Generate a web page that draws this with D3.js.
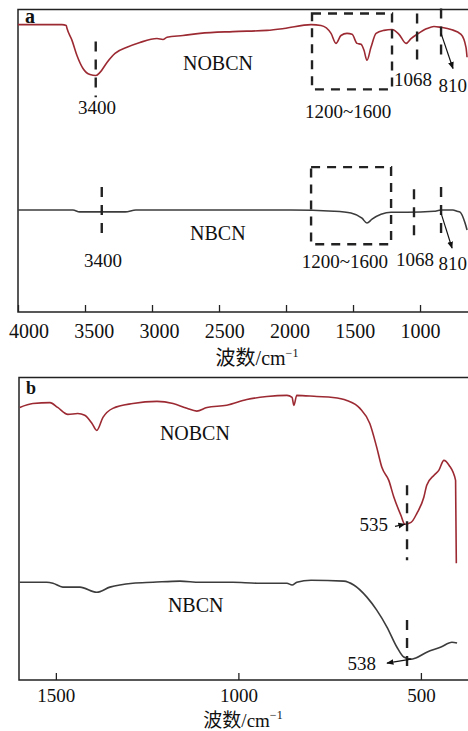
<!DOCTYPE html>
<html>
<head>
<meta charset="utf-8">
<script src="https://cdn.jsdelivr.net/npm/d3@7"></script>
<style>
  body { margin: 0; background: #fff; }
  svg { display: block; }
  text { font-family: "Liberation Serif", "DejaVu Serif", serif; fill: #111; }
</style>
</head>
<body>
<script>
var width = 468;
var height = 731;

// panel a: wavenumber (cm-1) / transmittance (a.u.)
var nobcnA = [[4000,95.0],[3672,95.0],[3640,94.7],[3634,93.7],[3597,89.8],[3560,84.8],[3515,80.5],
  [3463,78.5],[3418,78.2],[3388,79.2],[3336,82.5],[3276,85.5],[3187,87.5],[3090,89.1],[2963,90.4],
  [2918,90.1],[2888,90.8],[2769,91.4],[2642,92.1],[2396,92.7],[2142,93.1],[2015,93.7],[1813,95.0],
  [1739,94.7],[1664,92.1],[1627,88.8],[1590,91.4],[1545,92.1],[1507,91.8],[1470,88.8],[1440,88.5],
  [1418,86.5],[1396,83.2],[1366,87.5],[1328,92.1],[1269,93.1],[1209,93.4],[1157,91.8],[1104,88.8],
  [1067,90.4],[1022,91.8],[948,93.7],[896,94.4],[843,94.1],[769,93.4],[694,91.8],[657,87.5],[649,84.2]];
var nbcnA = [[4000,33.7],[3590,33.7],[3540,33.1],[3200,33.1],[3120,33.7],[1963,33.7],[1642,33.3],
  [1515,32.7],[1433,31.0],[1396,29.4],[1358,30.7],[1291,32.3],[1216,33.0],[1097,33.0],[896,33.3],
  [843,33.7],[754,33.7],[724,33.3],[701,33.0],[664,29.4],[649,27.1]];

// panel b
var nobcnB = [[1599,90.1],[1563,91.4],[1516,91.7],[1495,90.1],[1467,87.8],[1440,88.1],[1421,87.5],
  [1401,84.8],[1388,82.5],[1371,86.8],[1344,89.8],[1289,91.4],[1223,92.1],[1179,91.4],[1141,89.8],
  [1114,88.9],[1086,90.1],[1032,90.8],[977,92.7],[922,93.7],[867,94.1],[853,93.4],[848,90.8],
  [840,94.1],[785,93.7],[741,93.4],[703,92.4],[667,89.8],[640,84.8],[621,76.9],[607,70.3],
  [588,66.0],[574,60.4],[555,54.5],[544,51.5],[527,52.1],[511,55.1],[492,60.4],[484,64.4],
  [464,67.7],[451,69.3],[437,72.6],[423,71.0],[405,66.0],[403,38.6]];
var nbcnB = [[1599,32.3],[1525,32.3],[1508,32.0],[1481,30.7],[1434,30.7],[1388,29.0],[1352,30.7],
  [1289,32.0],[1234,32.3],[1160,32.7],[1105,32.3],[1015,32.3],[949,32.0],[867,32.0],[853,31.4],
  [840,32.3],[801,33.0],[711,32.7],[684,31.4],[648,27.4],[621,23.1],[593,17.5],[566,10.9],
  [547,7.6],[527,6.9],[514,7.3],[484,9.2],[445,10.9],[415,12.5],[401,12.2]];

var ticksA = [4000, 3500, 3000, 2500, 2000, 1500, 1000];
var ticksB = [1500, 1000, 500];

// annotations: dashed markers [wn, yTop, yBottom], boxes [wnLeft, wnRight, yTop, yBottom]
var markersA = [[3420,89.4,71.0],[1022,98.7,81.5],[843,100.3,82.5],
                [3375,41.3,23.8],[1045,40.6,23.8],[843,41.3,23.8]];
var boxesA = [[1806,1209,98.7,73.6],[1813,1216,47.9,22.4]];
var arrowsA = [[843,92.1,754,80.5],[843,32.7,761,21.1]];
var labelsA = [["3400",3410,65.3,"middle"],["1200~1600",1537,64.0,"middle"],["1068",1052,74.6,"middle"],["810",862,72.6,"start"],
               ["3400",3366,14.9,"middle"],["1200~1600",1560,14.5,"middle"],["1068",1037,15.2,"middle"],["810",862,13.9,"start"]];
var seriesLabelsA = [["NOBCN",2769,79.9],["NBCN",2716,23.8]];

var markersB = [[538,64.4,39.6],[538,19.8,4.3]];
var arrowsB = [[571,50.8,544,51.5],[527,6.9,593,5.6]];
var labelsB = [["535",590,49.2,"end"],["538",623,3.3,"end"]];
var seriesLabelsB = [["NOBCN",1215,79.2],["NBCN",1193,22.4]];

var red = "#9c2a33";
var grey = "#3c3c3c";

var svg = d3.select('body').append('svg')
    .attr('width', width)
    .attr('height', height);

svg.append('defs').append('marker')
    .attr('id', 'arr')
    .attr('viewBox', '0 0 10 10')
    .attr('refX', 9).attr('refY', 5)
    .attr('markerWidth', 6).attr('markerHeight', 6)
    .attr('orient', 'auto')
  .append('path')
    .attr('d', 'M0,1L10,5L0,9Z')
    .attr('fill', '#111');

function panel(opt) {
  var x = d3.scaleLinear().domain(opt.xDomain).range([opt.left, opt.right]);
  var y = d3.scaleLinear().domain([0, 100]).range([opt.bottom, opt.top]);
  var g = svg.append('g');

  // frame (left, top, bottom)
  g.append('path')
      .attr('d', 'M' + opt.right + ',' + opt.top + 'H' + opt.left + 'V' + opt.bottom + 'H' + opt.right)
      .attr('fill', 'none')
      .attr('stroke', '#222')
      .attr('stroke-width', 1.5);

  var axis = g.append('g')
      .attr('transform', 'translate(0,' + opt.bottom + ')')
      .call(d3.axisBottom(x).tickValues(opt.ticks).tickFormat(d3.format('d'))
        .tickSize(-7).tickSizeOuter(0).tickPadding(opt.pad));
  axis.select('.domain').remove();
  axis.selectAll('.tick line').attr('stroke', '#222').attr('stroke-width', 1.3);
  axis.selectAll('.tick text')
      .attr('font-family', '"Liberation Serif", serif')
      .attr('font-size', opt.tickSize)
      .attr('fill', '#111')
      .attr('dx', opt.labelShift);

  var line = d3.line()
      .x(function(d) { return x(d[0]); })
      .y(function(d) { return y(d[1]); })
      .curve(d3.curveMonotoneX);

  g.append('path').datum(opt.top1)
      .attr('d', line).attr('fill', 'none')
      .attr('stroke', red).attr('stroke-width', 1.6);
  g.append('path').datum(opt.bottom1)
      .attr('d', line).attr('fill', 'none')
      .attr('stroke', grey).attr('stroke-width', 1.6);

  g.selectAll('line.marker').data(opt.markers).enter().append('line')
      .attr('class', 'marker')
      .attr('x1', function(d) { return x(d[0]); })
      .attr('x2', function(d) { return x(d[0]); })
      .attr('y1', function(d) { return y(d[1]); })
      .attr('y2', function(d) { return y(d[2]); })
      .attr('stroke', '#222').attr('stroke-width', 2.4)
      .attr('stroke-dasharray', '10,8');

  g.selectAll('rect.box').data(opt.boxes).enter().append('rect')
      .attr('class', 'box')
      .attr('x', function(d) { return x(d[0]); })
      .attr('width', function(d) { return x(d[1]) - x(d[0]); })
      .attr('y', function(d) { return y(d[2]); })
      .attr('height', function(d) { return y(d[3]) - y(d[2]); })
      .attr('fill', 'none')
      .attr('stroke', '#222').attr('stroke-width', 2.4)
      .attr('stroke-dasharray', '9,7');

  g.selectAll('line.arrow').data(opt.arrows).enter().append('line')
      .attr('class', 'arrow')
      .attr('x1', function(d) { return x(d[0]); })
      .attr('y1', function(d) { return y(d[1]); })
      .attr('x2', function(d) { return x(d[2]); })
      .attr('y2', function(d) { return y(d[3]); })
      .attr('stroke', '#111').attr('stroke-width', 1.2)
      .attr('marker-end', 'url(#arr)');

  g.selectAll('text.note').data(opt.labels).enter().append('text')
      .attr('class', 'note')
      .attr('x', function(d) { return x(d[1]); })
      .attr('y', function(d) { return y(d[2]); })
      .attr('text-anchor', function(d) { return d[3]; })
      .attr('font-size', 19)
      .text(function(d) { return d[0]; });

  g.selectAll('text.series').data(opt.seriesLabels).enter().append('text')
      .attr('class', 'series')
      .attr('x', function(d) { return x(d[1]); })
      .attr('y', function(d) { return y(d[2]); })
      .attr('font-size', 20)
      .text(function(d) { return d[0]; });

  g.append('text')
      .attr('x', opt.left + 7)
      .attr('y', opt.top + opt.nameDy)
      .attr('font-size', opt.nameSize)
      .attr('font-weight', 'bold')
      .text(opt.name);

  var title = g.append('text')
      .attr('x', opt.titleX)
      .attr('y', opt.titleY)
      .attr('text-anchor', 'middle')
      .attr('font-size', opt.titleSize);
  title.append('tspan').attr('font-family', '"Noto Sans CJK SC", sans-serif').text('波数');
  title.append('tspan').text('/cm');
  title.append('tspan').attr('font-size', 12).attr('dy', -8).text('−1');
}

panel({
  name: 'a', nameSize: 20, nameDy: 13, xDomain: [4000, 642], left: 18, right: 468, top: 9.5, bottom: 312,
  ticks: ticksA, tickSize: 20, pad: 12, labelShift: function(d) { return (d - 1000) * 0.0035; },
  top1: nobcnA, bottom1: nbcnA,
  markers: markersA, boxes: boxesA, arrows: arrowsA, labels: labelsA, seriesLabels: seriesLabelsA,
  titleX: 257, titleY: 365, titleSize: 20
});

panel({
  name: 'b', nameSize: 18, nameDy: 16, xDomain: [1601, 371], left: 19, right: 468, top: 377.5, bottom: 680,
  ticks: ticksB, tickSize: 19, pad: 9, labelShift: 0,
  top1: nobcnB, bottom1: nbcnB,
  markers: markersB, boxes: [], arrows: arrowsB, labels: labelsB, seriesLabels: seriesLabelsB,
  titleX: 243, titleY: 727, titleSize: 19
});
</script>
</body>
</html>
